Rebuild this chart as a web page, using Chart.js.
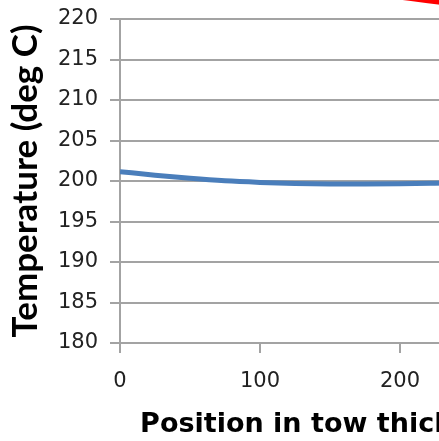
<!DOCTYPE html>
<html>
<head>
<meta charset="utf-8">
<title>Temperature through tow thickness</title>
<script src="https://cdn.jsdelivr.net/npm/chart.js@4.4.1/dist/chart.umd.min.js"></script>
<style>
  html, body { margin: 0; padding: 0; background: #ffffff; overflow: hidden; }
  #wrap { position: relative; width: 624px; height: 441px; }
</style>
</head>
<body>
<div id="wrap"><canvas id="chart"></canvas></div>
<script>
// Position through the tow (x) and temperature readings (deg C)
const positions = [0, 25, 50, 75, 100, 125, 150, 175, 200, 225, 250];
const temperatures = [201.15, 200.72, 200.33, 200.02, 199.83, 199.7, 199.63, 199.62, 199.65, 199.73, 199.83];

// Second trace, running high above the top of the temperature range
const upperPositions = [180, 200, 220, 240];
const upperTemperatures = [223.15, 222.7, 222.25, 221.85];

const yTicks = [180, 185, 190, 195, 200, 205, 210, 215, 220];
const xTicks = [0, 100, 200, 300];

const xTitle = 'Position in tow thickness (µm)';
const yTitle = 'Temperature (deg C)';

const toPoints = (xs, ys) => xs.map((x, i) => ({ x: x, y: ys[i] }));

const gridColor = '#a3a3a3';
const tickFont = { family: 'DejaVu Sans', size: 21 };

new Chart(document.getElementById('chart'), {
  type: 'line',
  data: {
    datasets: [
      {
        data: toPoints(positions, temperatures),
        borderColor: '#4a7ebb',
        borderWidth: 5,
        pointRadius: 0,
        cubicInterpolationMode: 'monotone',
        fill: false
      },
      {
        data: toPoints(upperPositions, upperTemperatures),
        borderColor: '#ff0000',
        borderWidth: 5,
        pointRadius: 0,
        cubicInterpolationMode: 'monotone',
        fill: false,
        clip: false
      }
    ]
  },
  options: {
    responsive: true,
    maintainAspectRatio: false,
    animation: false,
    devicePixelRatio: 1,
    layout: { padding: { top: 19, right: 0, bottom: 0, left: 0 } },
    plugins: { legend: { display: false }, tooltip: { enabled: false } },
    scales: {
      x: {
        type: 'linear',
        min: 0,
        max: 360,
        afterBuildTicks: (scale) => { scale.ticks = xTicks.map(v => ({ value: v })); },
        afterFit: (scale) => {
          scale.height = 98;
          scale.paddingLeft = 0;
          scale.paddingRight = 0;
        },
        grid: {
          drawOnChartArea: false,
          drawTicks: true,
          tickLength: 10,
          color: gridColor,
          lineWidth: 2
        },
        border: { display: true, color: gridColor, width: 2 },
        ticks: { color: '#222222', font: tickFont, padding: 16, maxRotation: 0 },
        title: {
          display: true,
          text: xTitle,
          color: '#000000',
          font: { family: 'DejaVu Sans', size: 27, weight: 'bold' },
          padding: { top: 0, bottom: 0 }
        }
      },
      y: {
        type: 'linear',
        min: 180,
        max: 220,
        afterBuildTicks: (scale) => { scale.ticks = yTicks.map(v => ({ value: v })); },
        afterFit: (scale) => {
          scale.width = 120;
          scale.paddingTop = 0;
          scale.paddingBottom = 0;
        },
        grid: {
          drawTicks: true,
          tickLength: 10,
          color: gridColor,
          lineWidth: 2
        },
        border: { display: true, color: gridColor, width: 2 },
        ticks: { color: '#222222', font: tickFont, padding: 12 },
        title: {
          display: true,
          text: yTitle,
          color: '#000000',
          font: { family: 'Lato', size: 35, weight: 'bold' },
          padding: { top: 5, bottom: 0 }
        }
      }
    }
  }
});
</script>
</body>
</html>
